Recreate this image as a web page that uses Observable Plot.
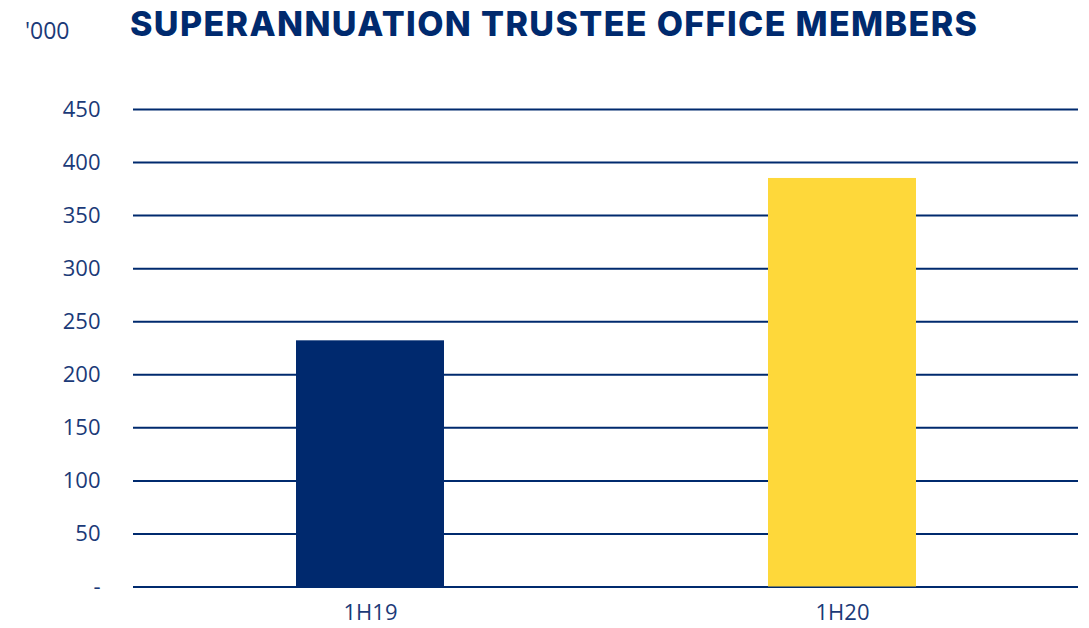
<!DOCTYPE html>
<html>
<head>
<meta charset="utf-8">
<script src="https://cdn.jsdelivr.net/npm/d3@7"></script>
<script src="https://cdn.jsdelivr.net/npm/@observablehq/plot@0.6"></script>
<style>
  html, body { margin: 0; padding: 0; background: #fff; }
  #wrap { position: relative; width: 1089px; height: 628px; overflow: hidden; }
  #header { position: relative; height: 50px; }
  #unit { position: absolute; left: 25px; top: 19px; font-family: "Open Sans", sans-serif; font-size: 23px; color: #1b3a78; line-height: 1; }
  #title { position: absolute; left: 130px; top: 7px; font-family: Inter, sans-serif; font-weight: 800; font-size: 34px; color: #002a6e; line-height: 1; white-space: nowrap; }
</style>
</head>
<body>
<div id="wrap">
  <div id="header"><div id="unit">'000</div><div id="title">SUPERANNUATION TRUSTEE OFFICE MEMBERS</div></div>
  <div id="chart"></div>
</div>
<script>
const categories = ["1H19", "1H20"];
const members = [232, 385];
const barColors = ["#00296e", "#fed83a"];
const yTicks = [0, 50, 100, 150, 200, 250, 300, 350, 400, 450];

const data = categories.map((c, i) => ({category: c, value: members[i], color: barColors[i]}));

const navy = "#002a6e";
const chart = Plot.plot({
  width: 1089,
  height: 578,
  marginTop: 59,
  marginBottom: 41.5,
  marginLeft: 133,
  marginRight: 11,
  style: {fontFamily: "'Open Sans', sans-serif", fontSize: "22px", color: "#1b3a78", background: "#fff"},
  x: {domain: categories, paddingInner: 0.687, paddingOuter: 0.3435, label: null},
  y: {domain: [0, 450], label: null},
  marks: [
    Plot.ruleY(yTicks, {stroke: navy, strokeWidth: 2}),
    Plot.barY(data, {x: "category", y: "value", fill: "color"}),
    Plot.axisY({ticks: yTicks, tickSize: 0, tickPadding: 33, label: null, tickFormat: d => d === 0 ? "-" : d, fill: "#1b3a78"}),
    Plot.axisX({tickSize: 0, tickPadding: 17, label: null, fill: "#1b3a78"})
  ]
});
document.getElementById("chart").appendChild(chart);

// fit title to its width in the reference
const t = document.getElementById("title");
const target = 847;
const w = t.getBoundingClientRect().width;
t.style.letterSpacing = ((target - w) / (t.textContent.length - 1)) + "px";
</script>
</body>
</html>
